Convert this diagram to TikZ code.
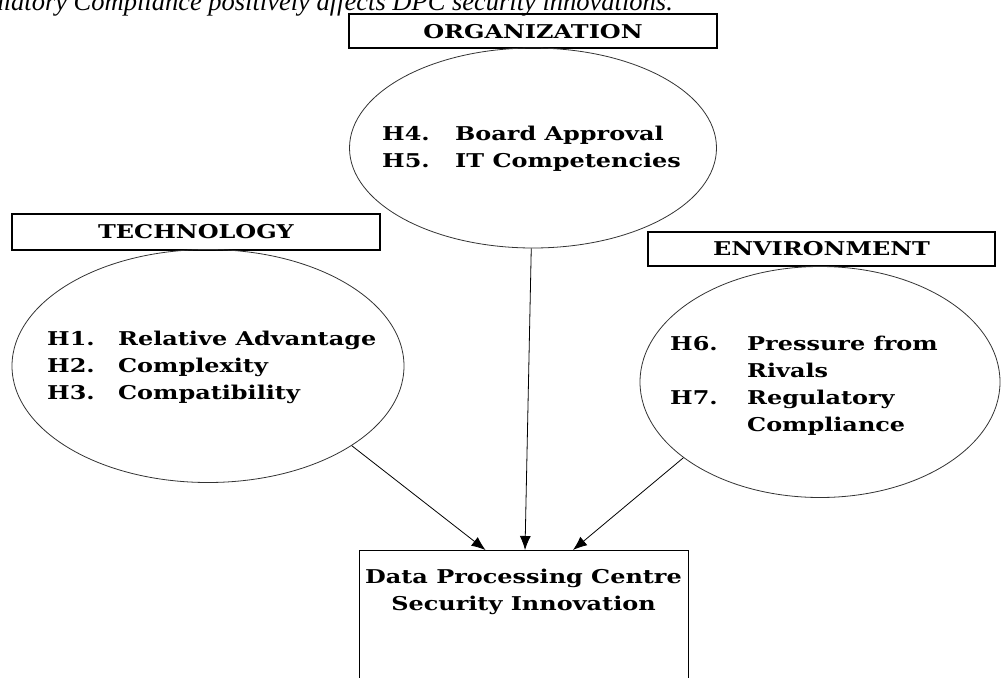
\documentclass[tikz,border=0pt]{standalone}
\usepackage{fontspec}
\setmainfont[FakeStretch=1.26]{DejaVu Serif}
\newfontfamily\notefont{Liberation Serif}
\usetikzlibrary{shapes.geometric,arrows.meta}
\tikzstyle{every node}=[inner sep=0pt]
\tikzstyle{heading}=[draw=black,line width=2pt,minimum height=34pt,font=\fontsize{19}{22}\selectfont\bfseries]
\tikzstyle{factor}=[ellipse,draw=black!80,line width=0.8pt]
\tikzstyle{items}=[anchor=base west,font=\fontsize{19}{27}\selectfont\bfseries]
\tikzstyle{link}=[-{Latex[length=14pt,width=11pt]},line width=0.8pt]

\begin{document}
\begin{tikzpicture}[x=1pt,y=-1pt]
  \useasboundingbox (0,0) rectangle (1003,677);
  \clip (0,0) rectangle (1003,677);

  % caption line cut by the top edge
  \node[anchor=base east,font=\notefont\fontsize{26.5}{28}\selectfont\itshape] (note) at (673,11)
    {ulatory Compliance positively affects DPC security innovations.};

  % headings
  \node[heading,minimum width=368pt] (orghead) at (533,31.5) {ORGANIZATION};
  \node[heading,minimum width=368pt,minimum height=36pt] (techhead) at (196,232) {TECHNOLOGY};
  \node[heading,minimum width=347pt] (envhead) at (821.5,249) {ENVIRONMENT};

  % factor ellipses
  \node[factor,minimum width=367pt,minimum height=200pt] (org) at (533,148) {};
  \node[factor,minimum width=392pt,minimum height=233pt] (tech) at (208,366) {};
  \node[factor,minimum width=360pt,minimum height=231pt] (env) at (820,382) {};

  \node[items] (orgtext) at (382,140)
    {\begin{tabular}[t]{@{}p{73pt}@{}l@{}}
      H4. & Board Approval\\
      H5. & IT Competencies
    \end{tabular}};
  \node[items] (techtext) at (47,345)
    {\begin{tabular}[t]{@{}p{71pt}@{}l@{}}
      H1. & Relative Advantage\\
      H2. & Complexity\\
      H3. & Compatibility
    \end{tabular}};
  \node[items] (envtext) at (670,350)
    {\begin{tabular}[t]{@{}p{77pt}@{}l@{}}
      H6. & Pressure from\\
          & Rivals\\
      H7. & Regulatory\\
          & Compliance
    \end{tabular}};

  % outcome
  \node[draw=black,line width=0.8pt,minimum width=329pt,minimum height=160pt,anchor=north] (dpc) at (523.5,550) {};
  \node[anchor=base,align=center,font=\fontsize{19}{27}\selectfont\bfseries] (dpctext) at (523.5,610)
    {Data Processing Centre\\Security Innovation};

  \draw[link] (tech.-29) -- ([xshift=-38pt]dpc.north);
  \draw[link] (org.-91) -- ([xshift=1.5pt]dpc.north);
  \draw[link] (env.-151) -- ([xshift=49.5pt]dpc.north);
\end{tikzpicture}
\end{document}
